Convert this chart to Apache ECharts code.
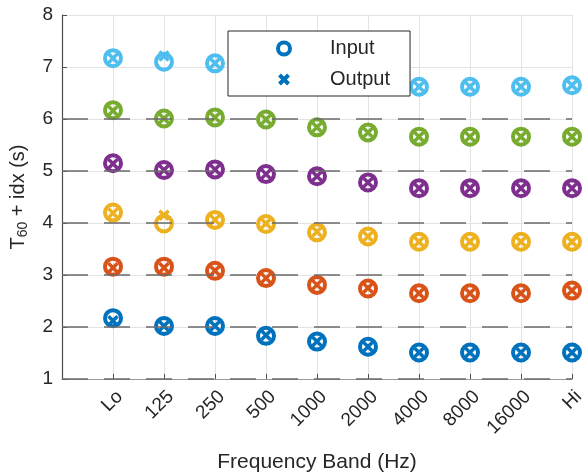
<!DOCTYPE html>
<html>
<head>
<meta charset="utf-8">
<script src="https://cdn.jsdelivr.net/npm/echarts@6/dist/echarts.min.js"></script>
<style>
  html, body { margin: 0; padding: 0; background: #fff; }
  #main { width: 587px; height: 473px; }
</style>
</head>
<body>
<div id="main"></div>
<script>
// frequency bands on the x axis
var bands = ['Lo', '125', '250', '500', '1000', '2000', '4000', '8000', '16000', 'Hi'];

// baseline offsets (idx) drawn as dashed lines
var offsets = [1, 2, 3, 4, 5, 6];

// T60 + idx, one array per row, input
var in1 = [2.17, 2.02, 2.02, 1.83, 1.72, 1.62, 1.51, 1.51, 1.51, 1.51];
var in2 = [3.16, 3.16, 3.08, 2.94, 2.81, 2.74, 2.65, 2.65, 2.65, 2.70];
var in3 = [4.20, 3.99, 4.06, 3.98, 3.82, 3.74, 3.64, 3.64, 3.64, 3.64];
var in4 = [5.15, 5.02, 5.03, 4.94, 4.90, 4.78, 4.67, 4.67, 4.67, 4.67];
var in5 = [6.17, 6.01, 6.03, 5.99, 5.84, 5.74, 5.66, 5.66, 5.66, 5.66];
var in6 = [7.17, 7.10, 7.07, 6.95, 6.85, 6.75, 6.62, 6.62, 6.62, 6.65];

// output
var out1 = [2.12, 2.02, 2.02, 1.84, 1.72, 1.62, 1.51, 1.51, 1.51, 1.51];
var out2 = [3.14, 3.14, 3.08, 2.94, 2.81, 2.75, 2.65, 2.65, 2.65, 2.70];
var out3 = [4.19, 4.15, 4.06, 3.99, 3.83, 3.74, 3.64, 3.64, 3.64, 3.64];
var out4 = [5.14, 5.02, 5.03, 4.94, 4.90, 4.78, 4.67, 4.67, 4.67, 4.67];
var out5 = [6.16, 6.01, 6.03, 5.99, 5.84, 5.74, 5.66, 5.66, 5.66, 5.66];
var out6 = [7.17, 7.21, 7.07, 6.95, 6.85, 6.75, 6.62, 6.62, 6.62, 6.65];

var colors = ['#0072BD', '#D95319', '#EDB120', '#7E2F8E', '#77AC30', '#4DBEEE'];
var inputs = [in1, in2, in3, in4, in5, in6];
var outputs = [out1, out2, out3, out4, out5, out6];

var xMark = 'path://M0,0L10,10M10,0L0,10';
// legend icons: wide empty box so the mark sits in the middle of the icon area
var xIcon = 'path://M-36,-3.5L-36,-3.5M46,13.5L46,13.5M0.5,0.5L9.5,9.5M9.5,0.5L0.5,9.5';
var oIcon = 'path://M-36,-3.5L-36,-3.5M46,13.5L46,13.5M-1,5A6,6,0,1,1,11,5A6,6,0,1,1,-1,5Z';
var textColor = '#262626';

function pts(arr) {
    return arr.map(function (v, i) { return [i + 1, v]; });
}

var series = [{
    name: 'idx',
    type: 'line',
    data: [],
    z: 1,
    silent: true,
    markLine: {
        silent: true,
        symbol: 'none',
        label: { show: false },
        lineStyle: { color: '#6b6b6b', width: 1.5, type: [26, 16] },
        data: offsets.map(function (v) { return [{ coord: [0, v] }, { coord: [10, v] }]; })
    }
}];

for (var k = 0; k < 6; k++) {
    series.push({
        name: k === 0 ? 'Input' : 'Input ' + (k + 1),
        type: 'scatter',
        symbol: 'circle',
        symbolSize: 16,
        z: 2,
        itemStyle: { color: 'rgba(0,0,0,0)', borderColor: colors[k], borderWidth: 4, opacity: 1 },
        data: pts(inputs[k])
    });
    series.push({
        name: k === 0 ? 'Output' : 'Output ' + (k + 1),
        type: 'scatter',
        symbol: xMark,
        symbolSize: 9,
        z: 3,
        itemStyle: { color: 'rgba(0,0,0,0)', borderColor: colors[k], borderWidth: 3.5, opacity: 1 },
        data: pts(outputs[k])
    });
}

var chart = echarts.init(document.getElementById('main'));
option = {
    backgroundColor: '#fff',
    animation: false,
    textStyle: { fontFamily: 'Liberation Sans, Arial, sans-serif' },
    grid: { left: 62, right: 15, top: 15, bottom: 94, outerBoundsMode: 'none', containLabel: false },
    legend: {
        data: [
            { name: 'Input', icon: oIcon, itemStyle: { borderWidth: 4, borderColor: colors[0], color: 'rgba(0,0,0,0)' } },
            { name: 'Output', icon: xIcon, itemStyle: { borderWidth: 4, borderColor: colors[0], color: 'rgba(0,0,0,0)' } }
        ],
        orient: 'vertical',
        left: 228,
        top: 31,
        z: 10,
        symbolKeepAspect: false,
        padding: [7, 20, 6, 13],
        itemWidth: 82,
        itemHeight: 17,
        itemGap: 10,
        backgroundColor: '#fff',
        borderColor: '#262626',
        borderWidth: 1,
        borderRadius: 0,
        textStyle: { fontSize: 20, color: textColor }
    },
    xAxis: {
        type: 'value',
        min: 0,
        max: 10,
        interval: 1,
        name: 'Frequency Band (Hz)',
        nameLocation: 'middle',
        nameGap: 73,
        nameTextStyle: { fontSize: 21, color: textColor },
        axisLine: { lineStyle: { color: '#9a9a9a', width: 1 } },
        axisTick: { inside: true, length: 5, lineStyle: { color: '#4d4d4d' } },
        axisLabel: {
            rotate: 45,
            fontSize: 19,
            color: textColor,
            margin: 8,
            verticalAlign: 'top',
            formatter: function (v) { return bands[v - 1] || ''; }
        },
        splitLine: { show: true, lineStyle: { color: '#e3e3e3', width: 1 } }
    },
    yAxis: {
        type: 'value',
        min: 1,
        max: 8,
        interval: 1,
        name: '{t|T}{s|60}{t| + idx (s)}',
        nameLocation: 'middle',
        nameGap: 32,
        nameRotate: 90,
        nameTextStyle: {
            color: textColor,
            rich: {
                t: { fontSize: 20, color: textColor, lineHeight: 24 },
                s: { fontSize: 14, color: textColor, lineHeight: 14, padding: [14, 0, 0, 0], verticalAlign: 'bottom' }
            }
        },
        axisLine: { show: true, lineStyle: { color: '#4d4d4d', width: 1.2 } },
        axisTick: { inside: true, length: 5, lineStyle: { color: '#4d4d4d' } },
        axisLabel: { fontSize: 19, color: textColor, margin: 9 },
        splitLine: { show: true, lineStyle: { color: '#e3e3e3', width: 1 } }
    },
    series: series
};
chart.setOption(option);
</script>
</body>
</html>
